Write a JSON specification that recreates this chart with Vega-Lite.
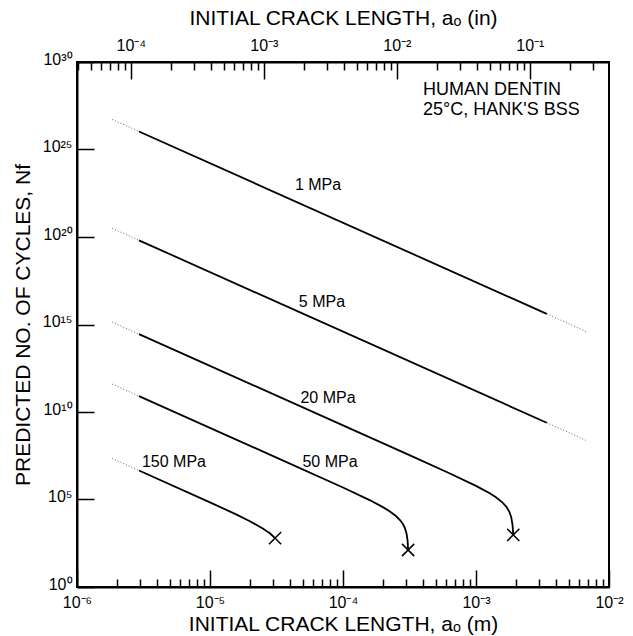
{
  "$schema": "https://vega.github.io/schema/vega-lite/v6.json",
  "width": 532,
  "height": 525,
  "autosize": {"type": "none"},
  "padding": {"left": 77, "top": 62, "right": 24, "bottom": 49},
  "background": "white",
  "config": {
    "font": "Liberation Sans",
    "view": {"stroke": "black", "strokeWidth": 2},
    "axis": {
      "domainColor": "black", "domainWidth": 2, "tickColor": "black", "tickWidth": 1.5,
      "labelColor": "black", "titleColor": "black", "labelFont": "Liberation Sans", "titleFont": "Liberation Sans",
      "titleFontWeight": "normal", "grid": false, "labelFontSize": 16, "titleFontSize": 21,
      "labelOverlap": false, "labelFlush": false
    }
  },
  "datasets": {
    "curves": [
      {"seg": "1L", "style": "dotted", "a": 1.841e-6, "N": 5.16e26},
      {"seg": "1L", "style": "dotted", "a": 2.924e-6, "N": 1.072e26},
      {"seg": "1S", "style": "solid", "a": 2.924e-6, "N": 1.072e26},
      {"seg": "1S", "style": "solid", "a": 3.404e-3, "N": 4.04e15},
      {"seg": "1R", "style": "dotted", "a": 3.404e-3, "N": 4.04e15},
      {"seg": "1R", "style": "dotted", "a": 6.792e-3, "N": 3.85e14},
      {"seg": "5L", "style": "dotted", "a": 1.841e-6, "N": 3.11e20},
      {"seg": "5L", "style": "dotted", "a": 2.924e-6, "N": 6.46e19},
      {"seg": "5S", "style": "solid", "a": 2.924e-6, "N": 6.46e19},
      {"seg": "5S", "style": "solid", "a": 3.404e-3, "N": 2.43e9},
      {"seg": "5R", "style": "dotted", "a": 3.404e-3, "N": 2.43e9},
      {"seg": "5R", "style": "dotted", "a": 6.792e-3, "N": 2.32e8},
      {"seg": "20L", "style": "dotted", "a": 1.841e-6, "N": 1.36e15},
      {"seg": "20L", "style": "dotted", "a": 2.924e-6, "N": 2.82e14},
      {"seg": "20S", "style": "solid", "a": 2.924e-6, "N": 2.82e14},
      {"seg": "20S", "style": "solid", "a": 1e-4, "N": 1.71e9},
      {"seg": "20S", "style": "solid", "a": 3.162e-4, "N": 3.41e7},
      {"seg": "20S", "style": "solid", "a": 6.31e-4, "N": 3.16e6},
      {"seg": "20S", "style": "solid", "a": 1e-3, "N": 6.03e5},
      {"seg": "20S", "style": "solid", "a": 1.259e-3, "N": 2.34e5},
      {"seg": "20S", "style": "solid", "a": 1.413e-3, "N": 1.35e5},
      {"seg": "20S", "style": "solid", "a": 1.585e-3, "N": 6.61e4},
      {"seg": "20S", "style": "solid", "a": 1.698e-3, "N": 3.72e4},
      {"seg": "20S", "style": "solid", "a": 1.778e-3, "N": 2.04e4},
      {"seg": "20S", "style": "solid", "a": 1.841e-3, "N": 9.77e3},
      {"seg": "20S", "style": "solid", "a": 1.884e-3, "N": 3.31e3},
      {"seg": "20S", "style": "solid", "a": 1.906e-3, "N": 9.55e2},
      {"seg": "50L", "style": "dotted", "a": 1.841e-6, "N": 3.92e11},
      {"seg": "50L", "style": "dotted", "a": 2.924e-6, "N": 8.13e10},
      {"seg": "50S", "style": "solid", "a": 2.924e-6, "N": 8.13e10},
      {"seg": "50S", "style": "solid", "a": 3.162e-5, "N": 2.48e7},
      {"seg": "50S", "style": "solid", "a": 1e-4, "N": 4.84e5},
      {"seg": "50S", "style": "solid", "a": 1.585e-4, "N": 9.27e4},
      {"seg": "50S", "style": "solid", "a": 1.995e-4, "N": 3.66e4},
      {"seg": "50S", "style": "solid", "a": 2.239e-4, "N": 2.13e4},
      {"seg": "50S", "style": "solid", "a": 2.512e-4, "N": 1.10e4},
      {"seg": "50S", "style": "solid", "a": 2.692e-4, "N": 6.47e3},
      {"seg": "50S", "style": "solid", "a": 2.818e-4, "N": 4.01e3},
      {"seg": "50S", "style": "solid", "a": 2.917e-4, "N": 2.39e3},
      {"seg": "50S", "style": "solid", "a": 3.006e-4, "N": 1.13e3},
      {"seg": "50S", "style": "solid", "a": 3.062e-4, "N": 4.2e2},
      {"seg": "50S", "style": "solid", "a": 3.087e-4, "N": 1.3e2},
      {"seg": "150L", "style": "dotted", "a": 1.841e-6, "N": 2.20e7},
      {"seg": "150L", "style": "dotted", "a": 2.924e-6, "N": 4.57e6},
      {"seg": "150S", "style": "solid", "a": 2.924e-6, "N": 4.57e6},
      {"seg": "150S", "style": "solid", "a": 1e-5, "N": 6.89e4},
      {"seg": "150S", "style": "solid", "a": 1.585e-5, "N": 1.37e4},
      {"seg": "150S", "style": "solid", "a": 1.995e-5, "N": 5.77e3},
      {"seg": "150S", "style": "solid", "a": 2.512e-5, "N": 2.15e3},
      {"seg": "150S", "style": "solid", "a": 2.818e-5, "N": 1.16e3},
      {"seg": "150S", "style": "solid", "a": 3.083e-5, "N": 6.2e2}
    ],
    "ends": [
      {"stress": "150 MPa", "a": 3.083e-5, "N": 6.2e2},
      {"stress": "50 MPa", "a": 3.087e-4, "N": 1.3e2},
      {"stress": "20 MPa", "a": 1.906e-3, "N": 9.55e2}
    ],
    "labels": [
      {"text": "1 MPa", "a": 6.49e-5, "N": 9.3e22},
      {"text": "5 MPa", "a": 6.95e-5, "N": 1.9e16},
      {"text": "20 MPa", "a": 7.71e-5, "N": 6.3e10},
      {"text": "50 MPa", "a": 7.98e-5, "N": 1.4e7},
      {"text": "150 MPa", "a": 5.36e-6, "N": 1.4e7}
    ],
    "notes": [
      {"text": "HUMAN DENTIN", "a": 4.0e-4, "N": 2.5e28},
      {"text": "25°C, HANK'S BSS", "a": 4.0e-4, "N": 1.8e27}
    ],
    "inches": [
      {"inch": 3.937e-5},
      {"inch": 0.3937}
    ]
  },
  "layer": [
    {
      "layer": [
        {
          "data": {"name": "curves"},
          "transform": [{"filter": "datum.style == 'dotted'"}],
          "mark": {"type": "line", "strokeDash": [1, 2], "strokeWidth": 1, "color": "#666"},
          "encoding": {
            "x": {
              "field": "a", "type": "quantitative",
              "scale": {"type": "log", "domain": [1e-6, 0.01], "nice": false},
              "axis": {
                "orient": "bottom",
                "title": "INITIAL CRACK LENGTH, aₒ (m)",
                "values": [1e-6, 2e-6, 3e-6, 4e-6, 5e-6, 6e-6, 7e-6, 8e-6, 9e-6, 1e-5, 2e-5, 3e-5, 4e-5, 5e-5, 6e-5, 7e-5, 8e-5, 9e-5, 1e-4, 2e-4, 3e-4, 4e-4, 5e-4, 6e-4, 7e-4, 8e-4, 9e-4, 0.001, 0.002, 0.003, 0.004, 0.005, 0.006, 0.007, 0.008, 0.009, 0.01],
                "labelExpr": "datum.value == 1e-6 ? '10⁻⁶' : datum.value == 1e-5 ? '10⁻⁵' : datum.value == 1e-4 ? '10⁻⁴' : datum.value == 0.001 ? '10⁻³' : datum.value == 0.01 ? '10⁻²' : ''",
                "tickSize": {"condition": {"test": "datum.value == 1e-6 || datum.value == 1e-5 || datum.value == 1e-4 || datum.value == 0.001 || datum.value == 0.01", "value": -17}, "value": -8},
                "labelPadding": 24,
                "titleBaseline": "middle",
                "titleY": 37
              }
            },
            "y": {
              "field": "N", "type": "quantitative",
              "scale": {"type": "log", "domain": [1, 1e30], "nice": false},
              "axis": {
                "title": "PREDICTED NO. OF CYCLES, Nf",
                "values": [1, 1e5, 1e10, 1e15, 1e20, 1e25, 1e30],
                "labelExpr": "datum.value == 1 ? '10⁰' : datum.value == 1e5 ? '10⁵' : datum.value == 1e10 ? '10¹⁰' : datum.value == 1e15 ? '10¹⁵' : datum.value == 1e20 ? '10²⁰' : datum.value == 1e25 ? '10²⁵' : '10³⁰'",
                "tickSize": -17,
                "labelPadding": 22,
                "labelOffset": -3,
                "titlePadding": 9
              }
            },
            "detail": {"field": "seg"}
          }
        },
        {
          "data": {"name": "curves"},
          "transform": [{"filter": "datum.style == 'solid'"}],
          "mark": {"type": "line", "strokeWidth": 1.8, "color": "black"},
          "encoding": {
            "x": {"field": "a", "type": "quantitative"},
            "y": {"field": "N", "type": "quantitative"},
            "detail": {"field": "seg"}
          }
        },
        {
          "data": {"name": "ends"},
          "mark": {"type": "point", "shape": "M-1,-1L1,1M-1,1L1,-1", "size": 150, "filled": false, "stroke": "black", "strokeWidth": 1.5, "opacity": 1},
          "encoding": {
            "x": {"field": "a", "type": "quantitative"},
            "y": {"field": "N", "type": "quantitative"}
          }
        },
        {
          "data": {"name": "labels"},
          "mark": {"type": "text", "fontSize": 16, "align": "center", "baseline": "middle", "color": "black"},
          "encoding": {
            "x": {"field": "a", "type": "quantitative"},
            "y": {"field": "N", "type": "quantitative"},
            "text": {"field": "text"}
          }
        },
        {
          "data": {"name": "notes"},
          "mark": {"type": "text", "fontSize": 18, "align": "left", "baseline": "middle", "color": "black"},
          "encoding": {
            "x": {"field": "a", "type": "quantitative"},
            "y": {"field": "N", "type": "quantitative"},
            "text": {"field": "text"}
          }
        }
      ]
    },
    {
      "data": {"name": "inches"},
      "mark": {"type": "point", "opacity": 0},
      "encoding": {
        "x": {
          "field": "inch", "type": "quantitative",
          "scale": {"type": "log", "domain": [3.937e-5, 0.3937], "nice": false},
          "axis": {
            "orient": "top",
            "title": "INITIAL CRACK LENGTH, aₒ (in)",
            "values": [4e-5, 5e-5, 6e-5, 7e-5, 8e-5, 9e-5, 1e-4, 2e-4, 3e-4, 4e-4, 5e-4, 6e-4, 7e-4, 8e-4, 9e-4, 0.001, 0.002, 0.003, 0.004, 0.005, 0.006, 0.007, 0.008, 0.009, 0.01, 0.02, 0.03, 0.04, 0.05, 0.06, 0.07, 0.08, 0.09, 0.1, 0.2, 0.3],
            "labelExpr": "datum.value == 1e-4 ? '10⁻⁴' : datum.value == 0.001 ? '10⁻³' : datum.value == 0.01 ? '10⁻²' : datum.value == 0.1 ? '10⁻¹' : ''",
            "tickSize": {"condition": {"test": "datum.value == 1e-4 || datum.value == 0.001 || datum.value == 0.01 || datum.value == 0.1", "value": -17}, "value": -8},
            "labelPadding": 26,
            "titleBaseline": "middle",
            "titleY": -44
          }
        }
      }
    }
  ],
  "resolve": {"scale": {"x": "independent"}, "axis": {"x": "independent"}}
}
